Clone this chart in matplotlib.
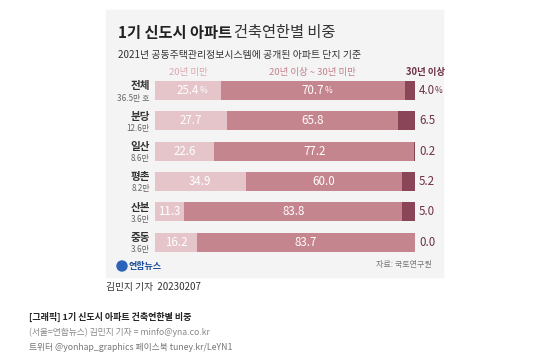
import matplotlib.pyplot as plt
from matplotlib.patches import Rectangle, Ellipse

plt.rcParams['font.family'] = ['Noto Sans CJK KR', 'DejaVu Sans']

regions = ['전체', '분당', '일산', '평촌', '산본', '중동']
units = ['36.5만 호', '12.6만', '8.6만', '8.2만', '3.6만', '3.6만']
under20 = [25.4, 27.7, 22.6, 34.9, 11.3, 16.2]
mid20_30 = [70.7, 65.8, 77.2, 60.0, 83.8, 83.7]
over30 = [4.0, 6.5, 0.2, 5.2, 5.0, 0.0]
headers = ['20년 미만', '20년 이상 ~ 30년 미만', '30년 이상']

c_light = '#e6c5ca'
c_mid = '#c5858f'
c_dark = '#8b4559'
c_txt = '#6d3244'

W, H = 537, 362
fig = plt.figure(figsize=(W / 100, H / 100), dpi=100)


def fx(x):
    return x / W


def fy(y):
    return 1 - y / H


# gray panel
fig.patches.append(Rectangle((fx(106), fy(277)), fx(443) - fx(106), fy(10) - fy(277),
                             transform=fig.transFigure, color='#f4f4f4', zorder=-5))

fig.text(fx(118), fy(33), '1기 신도시 아파트', fontsize=11, fontweight='bold', color='#222222', va='center')
fig.text(fx(234), fy(33), '건축연한별 비중', fontsize=11, fontweight='light', color='#333333', va='center')
fig.text(fx(118), fy(55), '2021년 공동주택관리정보시스템에 공개된 아파트 단지 기준',
         fontsize=7.1, color='#333333', va='center')

# bar axes
ax = fig.add_axes([fx(155), fy(257.25), fx(415) - fx(155), fy(75.25) - fy(257.25)])
ax.set_zorder(2)
ax.patch.set_alpha(0)
ax.set_xlim(0, 100)
ax.set_ylim(5.5, -0.5)
ax.axis('off')

ys = list(range(len(regions)))
h = 0.63
left2 = under20
left3 = [a + b for a, b in zip(under20, mid20_30)]
ax.barh(ys, under20, height=h, color=c_light, linewidth=0)
ax.barh(ys, mid20_30, left=left2, height=h, color=c_mid, linewidth=0)
ax.barh(ys, over30, left=left3, height=h, color=c_dark, linewidth=0)

for i in ys:
    t1 = ax.text(under20[i] / 2, i, f'{under20[i]:.1f}', color='white', fontsize=8.3,
                 ha='center', va='center', clip_on=False)
    t2 = ax.text(under20[i] + mid20_30[i] / 2, i, f'{mid20_30[i]:.1f}', color='white',
                 fontsize=8.3, ha='center', va='center', clip_on=False)
    t3 = ax.text(101.5, i, f'{over30[i]:.1f}', color=c_txt, fontsize=8.3,
                 ha='left', va='center', clip_on=False)
    if i == 0:
        for t, col in [(t1, 'white'), (t2, 'white'), (t3, c_txt)]:
            ax.annotate('%', xy=(1, 0.12), xycoords=t, fontsize=6, color=col,
                        ha='left', va='bottom', annotation_clip=False)
    # row labels
    ax.text(-2, i - 0.13, regions[i], ha='right', va='center', fontsize=7.6,
            fontweight='bold', color='#333333', clip_on=False)
    ax.text(-2, i + 0.25, units[i], ha='right', va='center', fontsize=5.8,
            color='#666666', clip_on=False)

fig.text(fx(188), fy(72), headers[0], fontsize=6.8, color='#dba7b0', ha='center', va='center')
fig.text(fx(312), fy(72), headers[1], fontsize=6.8, color='#c4808c', ha='center', va='center')
fig.text(fx(425), fy(72), headers[2], fontsize=6.8, color=c_txt, ha='center', va='center',
         fontweight='bold')

# logo
fig.patches.append(Ellipse((fx(122), fy(266)), fx(10), 10 / H, transform=fig.transFigure,
                           color='#2a63b8', zorder=2))
fig.text(fx(129), fy(266), '연합뉴스', fontsize=6.5, fontweight='bold', color='#1d4f9c', va='center')
fig.text(fx(432), fy(265), '자료: 국토연구원', fontsize=5.8, color='#777777', ha='right', va='center')

fig.text(fx(106), fy(287), '김민지 기자  20230207', fontsize=7, color='#333333', va='center')
fig.text(fx(29), fy(317), '[그래픽] 1기 신도시 아파트 건축연한별 비중', fontsize=6.5,
         fontweight='bold', color='#222222', va='center')
fig.text(fx(29), fy(332), '(서울=연합뉴스) 김민지 기자 = minfo@yna.co.kr', fontsize=6.3,
         color='#888888', va='center')
fig.text(fx(29), fy(347), '트위터 @yonhap_graphics 페이스북 tuney.kr/LeYN1', fontsize=6.3,
         color='#777777', va='center')

fig.savefig('out.png', dpi=100)
